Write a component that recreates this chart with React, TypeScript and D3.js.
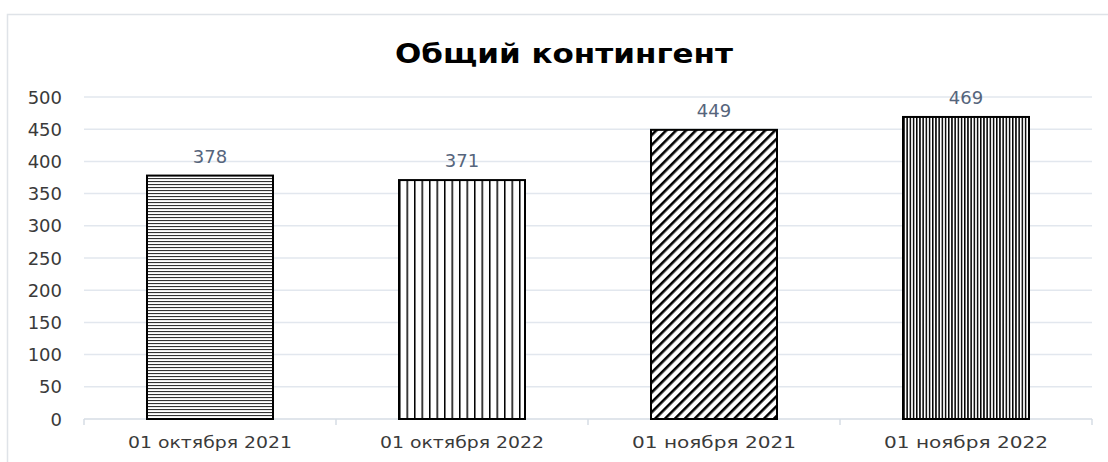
import React, { useEffect, useRef } from 'react'
import * as d3 from 'd3'

// Chart data
const categories: string[] = [
  '01 октября 2021',
  '01 октября 2022',
  '01 ноября 2021',
  '01 ноября 2022',
]
const values: number[] = [378, 371, 449, 469]
const yTicks: number[] = [0, 50, 100, 150, 200, 250, 300, 350, 400, 450, 500]
const patternIds: string[] = ['pat-horiz', 'pat-vert', 'pat-diag', 'pat-dense']

const FONT = '"DejaVu Sans", Verdana, sans-serif'

const App: React.FC = () => {
  const chartRef = useRef<SVGSVGElement | null>(null)

  useEffect(() => {
    if (!chartRef.current) return
    const svg = d3.select(chartRef.current)
    svg.selectAll('*').remove()

    const W = 1108
    const H = 462
    const margin = { top: 97, right: 16, bottom: 43, left: 84 }
    const width = W - margin.left - margin.right
    const height = H - margin.top - margin.bottom

    // Patterns for bars
    const defs = svg.append('defs')

    const horiz = defs.append('pattern')
      .attr('id', 'pat-horiz')
      .attr('patternUnits', 'userSpaceOnUse')
      .attr('width', 8)
      .attr('height', 3)
    horiz.append('rect').attr('width', 8).attr('height', 3).attr('fill', '#fff')
    horiz.append('rect').attr('y', 0).attr('width', 8).attr('height', 1.1).attr('fill', '#333')

    const vert = defs.append('pattern')
      .attr('id', 'pat-vert')
      .attr('patternUnits', 'userSpaceOnUse')
      .attr('width', 7.5)
      .attr('height', 8)
    vert.append('rect').attr('width', 7.5).attr('height', 8).attr('fill', '#fff')
    vert.append('rect').attr('x', 0).attr('width', 1.5).attr('height', 8).attr('fill', '#000')

    const diag = defs.append('pattern')
      .attr('id', 'pat-diag')
      .attr('patternUnits', 'userSpaceOnUse')
      .attr('width', 7)
      .attr('height', 7)
      .attr('patternTransform', 'rotate(45)')
    diag.append('rect').attr('width', 7).attr('height', 7).attr('fill', '#fff')
    diag.append('rect').attr('x', 0).attr('width', 2.6).attr('height', 7).attr('fill', '#000')

    const dense = defs.append('pattern')
      .attr('id', 'pat-dense')
      .attr('patternUnits', 'userSpaceOnUse')
      .attr('width', 3.2)
      .attr('height', 8)
    dense.append('rect').attr('width', 3.2).attr('height', 8).attr('fill', '#fff')
    dense.append('rect').attr('x', 0).attr('width', 1.5).attr('height', 8).attr('fill', '#000')

    // Background and outer border
    svg.append('rect')
      .attr('width', W)
      .attr('height', H)
      .attr('fill', '#fff')
    svg.append('rect')
      .attr('x', 7.5)
      .attr('y', 14.5)
      .attr('width', W + 10)
      .attr('height', H + 10)
      .attr('fill', 'none')
      .attr('stroke', '#dfe3e8')
      .attr('stroke-width', 1.5)

    // Title
    svg.append('text')
      .attr('x', 564)
      .attr('y', 63)
      .attr('text-anchor', 'middle')
      .attr('textLength', 338)
      .attr('lengthAdjust', 'spacingAndGlyphs')
      .style('font-family', FONT)
      .style('font-size', '27px')
      .style('font-weight', 700)
      .attr('fill', '#000')
      .text('Общий контингент')

    const g = svg.append('g')
      .attr('transform', `translate(${margin.left},${margin.top})`)

    // Scales
    const x = d3.scaleBand<string>()
      .domain(categories)
      .range([0, width])
      .paddingInner(0.5)
      .paddingOuter(0.25)

    const y = d3.scaleLinear()
      .domain([0, 500])
      .range([height, 0])

    // Grid lines
    g.append('g')
      .selectAll('line')
      .data(yTicks.filter(t => t > 0))
      .join('line')
      .attr('x1', 0)
      .attr('x2', width)
      .attr('y1', d => y(d))
      .attr('y2', d => y(d))
      .attr('stroke', '#e2e7ee')
      .attr('stroke-width', 1.5)

    // Y axis labels
    g.append('g')
      .selectAll('text')
      .data(yTicks)
      .join('text')
      .attr('x', -22)
      .attr('y', d => y(d) + 6.5)
      .attr('text-anchor', 'end')
      .style('font-family', FONT)
      .style('font-size', '18px')
      .attr('fill', '#3a3a3a')
      .text(d => String(d))

    // X axis line and ticks
    const bandStep = x.step()
    const axis = g.append('g').attr('transform', `translate(0,${height})`)
    axis.append('line')
      .attr('x1', 0)
      .attr('x2', width)
      .attr('stroke', '#d6dce4')
      .attr('stroke-width', 1.5)
    axis.selectAll('line.tick')
      .data(d3.range(categories.length + 1))
      .join('line')
      .attr('class', 'tick')
      .attr('x1', i => i * bandStep)
      .attr('x2', i => i * bandStep)
      .attr('y1', 0)
      .attr('y2', 6)
      .attr('stroke', '#d6dce4')
      .attr('stroke-width', 1.5)
    axis.selectAll('text')
      .data(categories)
      .join('text')
      .attr('x', d => (x(d) as number) + x.bandwidth() / 2)
      .attr('y', 29)
      .attr('text-anchor', 'middle')
      .attr('textLength', 164)
      .attr('lengthAdjust', 'spacingAndGlyphs')
      .style('font-family', FONT)
      .style('font-size', '16.5px')
      .attr('fill', '#3a3a3a')
      .text(d => d)

    // Bars
    g.selectAll('rect.bar')
      .data(values)
      .join('rect')
      .attr('class', 'bar')
      .attr('x', (d, i) => x(categories[i]) as number)
      .attr('y', d => y(d))
      .attr('width', x.bandwidth())
      .attr('height', d => height - y(d))
      .attr('fill', (d, i) => `url(#${patternIds[i]})`)
      .attr('stroke', '#000')
      .attr('stroke-width', 2)

    // Value labels
    g.selectAll('text.value')
      .data(values)
      .join('text')
      .attr('class', 'value')
      .attr('x', (d, i) => (x(categories[i]) as number) + x.bandwidth() / 2)
      .attr('y', d => y(d) - 13)
      .attr('text-anchor', 'middle')
      .style('font-family', FONT)
      .style('font-size', '18px')
      .attr('fill', '#56657c')
      .text(d => String(d))
  }, [])

  return (
    <div style={{ position: 'fixed', left: 0, top: 0, width: 1108, height: 462 }}>
      <svg ref={chartRef} width={1108} height={462} style={{ display: 'block' }} />
    </div>
  )
}

export default App
